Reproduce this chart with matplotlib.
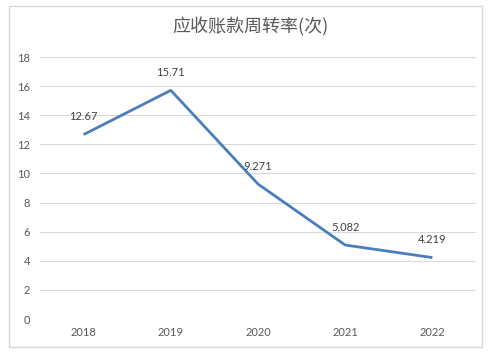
import matplotlib
matplotlib.use("Agg")
import matplotlib.pyplot as plt
from matplotlib.patches import Rectangle

plt.rcParams['font.family'] = ['Lato', 'Noto Sans CJK SC', 'DejaVu Sans']

years = ['2018', '2019', '2020', '2021', '2022']
turnover = [12.67, 15.71, 9.271, 5.082, 4.219]
labels = ['12.67', '15.71', '9.271', '5.082', '4.219']

W, H = 496, 353
fig = plt.figure(figsize=(W / 100, H / 100), dpi=100)
ax = fig.add_axes([40 / W, 1 - 319 / H, 436 / W, 262 / H])

x = range(len(years))
ax.plot(x, turnover, color='#4A7EBB', linewidth=2.0, solid_capstyle='butt')
for i, v in enumerate(turnover):
    ax.annotate(labels[i], (i, v), xytext=(0, 9), textcoords='offset points',
                ha='center', va='bottom', fontsize=8, color='#404040')

ax.set_xlim(-0.5, 4.5)
ax.set_ylim(0, 18)
ax.set_yticks(range(0, 19, 2))
ax.set_xticks(list(x))
ax.set_xticklabels(years)
ax.grid(axis='y', color='#D9D9D9', linewidth=0.8)
ax.set_axisbelow(True)
for s in ax.spines.values():
    s.set_visible(False)
ax.tick_params(length=0, labelsize=8, labelcolor='#595959')
ax.tick_params(axis='y', pad=7)
ax.tick_params(axis='x', pad=6)

fig.text(250 / W, 1 - 27 / H, '应收账款周转率(次)', ha='center', va='center',
         fontsize=13, color='#595959', family=['Noto Sans CJK SC', 'DejaVu Sans'])

fig.patches.append(Rectangle((9 / W, 1 - 347 / H), 473 / W, 341 / H,
                             transform=fig.transFigure, fill=False,
                             edgecolor='#D9D9D9', linewidth=1.0))

fig.savefig('out.png', dpi=100)
